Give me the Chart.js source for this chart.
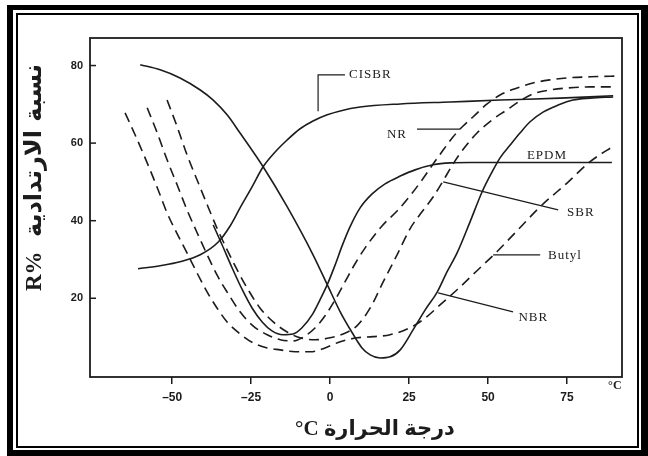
<!DOCTYPE html>
<html>
<head>
<meta charset="utf-8">
<script src="https://cdn.jsdelivr.net/npm/chart.js@4.4.1/dist/chart.umd.min.js"></script>
<style>
  html, body { margin: 0; padding: 0; background: #fff; }
  canvas { display: block; }
</style>
</head>
<body>
<canvas id="resilience" width="648" height="456"></canvas>
<script>
// Tick values on each axis
const tempTicks = [-50, -25, 0, 25, 50, 75];
const reboundTicks = [20, 40, 60, 80];

// Rebound resilience (R%) against temperature (°C) for each rubber
const cisbrTemp = [-60.8, -53.8, -47.5, -41.1, -35.4, -31.6, -28.5, -24.7, -21.2, -17.4, -13.6, -9.5, -5.4, -0.9, 3.2, 9.5, 22.2, 38.0, 53.8, 72.8, 89.6];
const cisbrR    = [27.6, 28.4, 29.4, 31.2, 34.5, 38.7, 43.3, 48.7, 53.9, 57.7, 60.8, 63.7, 65.7, 67.3, 68.3, 69.3, 70.1, 70.6, 71.1, 71.6, 72.2];

const nrTemp = [-57.9, -54.7, -51.6, -48.4, -45.3, -42.1, -38.9, -35.8, -32.6, -28.5, -24.4, -19.9, -15.8, -11.7, -7.9, -4.7, -1.6, 1.6, 4.7, 7.9, 11.1, 16.5, 21.2, 25.3, 29.1, 32.6, 35.8, 38.9, 42.1, 45.3, 49.7, 53.8, 59.2, 64.2, 69.6, 75.0, 82.3, 91.8];
const nrR    = [69.1, 62.6, 55.7, 49.2, 42.8, 36.9, 31.2, 26.0, 21.6, 16.5, 12.9, 10.6, 9.3, 9.0, 10.3, 12.4, 15.5, 19.6, 24.2, 28.9, 33.0, 38.7, 42.5, 46.4, 50.5, 54.6, 58.2, 61.6, 64.4, 66.8, 70.1, 72.4, 74.2, 75.5, 76.3, 76.8, 77.1, 77.3];

const sbrTemp = [-51.6, -48.4, -45.3, -42.1, -38.9, -35.8, -32.6, -29.4, -26.3, -22.2, -18.0, -13.6, -9.5, -4.7, 0, 4.1, 8.5, 12.7, 16.8, 21.2, 25.3, 29.1, 32.6, 35.8, 38.9, 42.7, 46.5, 51.3, 56.0, 60.1, 64.2, 69.6, 75.0, 82.3, 89.6];
const sbrR    = [71.1, 64.2, 57.0, 50.5, 44.1, 38.1, 32.5, 27.3, 22.7, 17.5, 13.9, 11.3, 9.8, 9.3, 9.8, 10.8, 12.9, 17.5, 24.2, 31.2, 37.9, 42.3, 46.1, 50.3, 54.6, 59.0, 62.6, 66.0, 68.6, 70.9, 72.7, 73.7, 74.2, 74.5, 74.5];

const butylTemp = [-64.9, -61.7, -57.9, -54.7, -51.6, -48.4, -45.3, -42.1, -38.9, -35.8, -32.6, -28.5, -24.4, -19.9, -15.8, -11.1, -6.3, -1.6, 3.2, 8.5, 13.6, 19.0, 25.3, 30.1, 34.8, 40.2, 46.5, 52.8, 59.2, 66.5, 75.0, 82.3, 90.2];
const butylR    = [67.8, 62.1, 54.9, 48.5, 42.0, 36.6, 31.7, 26.5, 21.6, 17.5, 13.9, 10.8, 8.5, 7.2, 6.7, 6.2, 6.2, 7.2, 8.8, 9.8, 10.1, 10.6, 12.4, 14.9, 18.3, 22.2, 27.1, 32.0, 37.4, 43.6, 49.7, 55.2, 59.5];

const epdmTemp = [-37.0, -34.2, -31.0, -27.8, -24.7, -21.5, -18.4, -14.9, -11.7, -8.9, -5.7, -3.2, -0.9, 1.6, 3.8, 6.3, 9.5, 13.3, 17.4, 22.2, 26.9, 32.6, 38.0, 44.3, 89.2];
const epdmR    = [38.9, 33.8, 27.8, 22.2, 17.5, 13.9, 11.6, 10.6, 10.8, 12.4, 15.7, 19.6, 23.5, 28.6, 33.5, 38.4, 43.3, 46.9, 49.5, 51.5, 53.1, 54.4, 54.9, 55.0, 55.0];

const nbrTemp = [-60.1, -53.8, -47.5, -41.1, -37.0, -32.6, -28.5, -21.2, -13.6, -5.4, -0.9, 3.2, 7.0, 10.1, 12.7, 15.8, 19.0, 22.2, 26.3, 30.1, 33.9, 37.0, 40.2, 44.3, 48.1, 51.3, 53.8, 57.0, 60.1, 63.3, 67.4, 72.2, 76.9, 82.3, 89.6];
const nbrR    = [80.2, 78.9, 76.8, 73.7, 71.1, 67.3, 62.6, 53.9, 43.6, 31.2, 23.5, 16.5, 11.1, 7.2, 5.4, 4.6, 4.9, 6.7, 11.9, 17.0, 21.6, 26.8, 31.7, 39.7, 47.4, 52.6, 56.2, 59.5, 62.6, 65.5, 68.0, 69.8, 71.1, 71.6, 71.9];

// Curve labels with their leader lines, in axis units (temperature, R%)
const curveLabels = [
  { text: 'CISBR', at: [6.0, 77.6], leader: [[-3.8, 68.2], [-3.8, 77.6], [4.7, 77.6]] },
  { text: 'NR',    at: [18.0, 62.2], leader: [[27.5, 63.6], [41.1, 63.6]] },
  { text: 'EPDM',  at: [62.3, 56.8], leader: [] },
  { text: 'SBR',   at: [75.0, 42.2], leader: [[35.8, 50.0], [72.2, 42.8]] },
  { text: 'Butyl', at: [69.0, 30.9], leader: [[51.6, 31.2], [66.5, 31.2]] },
  { text: 'NBR',   at: [59.6, 15.0], leader: [[34.2, 21.4], [57.9, 16.5]] }
];

const ink = '#1c1c1c';
const pairs = (xs, ys) => xs.map((x, i) => ({ x, y: ys[i] }));

function curve(label, xs, ys, dashed) {
  return {
    label,
    data: pairs(xs, ys),
    borderColor: ink,
    borderWidth: 1.6,
    borderDash: dashed ? [10, 6] : [],
    pointRadius: 0,
    fill: false,
    cubicInterpolationMode: 'monotone'
  };
}

const decorations = {
  id: 'decorations',
  beforeDraw(chart) {
    const ctx = chart.ctx;
    ctx.save();
    ctx.fillStyle = '#fff';
    ctx.fillRect(0, 0, chart.width, chart.height);
    ctx.restore();
  },
  afterDraw(chart) {
    const ctx = chart.ctx;
    const a = chart.chartArea;
    const xs = chart.scales.x, ys = chart.scales.y;
    ctx.save();

    // plot box
    ctx.strokeStyle = ink;
    ctx.lineWidth = 1.8;
    ctx.strokeRect(a.left, a.top, a.right - a.left, a.bottom - a.top);

    // inward tick marks on the R% axis
    ctx.lineWidth = 1.5;
    reboundTicks.forEach(v => {
      const y = ys.getPixelForValue(v);
      ctx.beginPath();
      ctx.moveTo(a.left, y);
      ctx.lineTo(a.left + 6, y);
      ctx.stroke();
    });

    // curve labels and leaders
    ctx.lineWidth = 1.2;
    ctx.fillStyle = ink;
    ctx.font = '13px "Liberation Serif"';
    ctx.letterSpacing = '1px';
    ctx.textBaseline = 'middle';
    ctx.textAlign = 'left';
    curveLabels.forEach(l => {
      if (l.leader.length) {
        ctx.beginPath();
        l.leader.forEach((p, i) => {
          const px = xs.getPixelForValue(p[0]), py = ys.getPixelForValue(p[1]);
          if (i === 0) ctx.moveTo(px, py); else ctx.lineTo(px, py);
        });
        ctx.stroke();
      }
      ctx.fillText(l.text, xs.getPixelForValue(l.at[0]), ys.getPixelForValue(l.at[1]));
    });
    ctx.letterSpacing = '0px';

    // unit next to the temperature axis
    ctx.font = 'bold 12px "Liberation Serif"';
    ctx.fillText('°C', xs.getPixelForValue(88), a.bottom + 9);

    // axis titles
    ctx.font = 'bold 21px "Liberation Serif", "DejaVu Sans"';
    ctx.textAlign = 'center';
    ctx.fillText('°C درجة الحرارة', 375, 430);

    ctx.save();
    ctx.translate(35, 0);
    ctx.rotate(-Math.PI / 2);
    ctx.textAlign = 'left';
    ctx.font = 'bold 23px "Liberation Serif"';
    ctx.fillText('R%', -291, 0);
    ctx.textAlign = 'right';
    ctx.font = 'bold 24px "DejaVu Sans"';
    ctx.fillText('نسبة الارتدادية', -64, 0);
    ctx.restore();

    // double frame round the figure
    ctx.fillStyle = '#000';
    ctx.fillRect(7, 5, 634, 5);
    ctx.fillRect(7, 450, 641, 6);
    ctx.fillRect(7, 5, 6, 451);
    ctx.fillRect(641, 5, 7, 451);
    ctx.lineWidth = 2;
    ctx.strokeStyle = '#000';
    ctx.strokeRect(17, 14, 621, 433);

    ctx.restore();
  }
};

new Chart(document.getElementById('resilience'), {
  type: 'line',
  data: {
    datasets: [
      curve('CISBR', cisbrTemp, cisbrR, false),
      curve('NR', nrTemp, nrR, true),
      curve('SBR', sbrTemp, sbrR, true),
      curve('Butyl', butylTemp, butylR, true),
      curve('EPDM', epdmTemp, epdmR, false),
      curve('NBR', nbrTemp, nbrR, false)
    ]
  },
  options: {
    responsive: false,
    animation: false,
    devicePixelRatio: 1,
    layout: { padding: { left: 0, top: 38, right: 26, bottom: 0 } },
    plugins: { legend: { display: false }, tooltip: { enabled: false } },
    scales: {
      x: {
        type: 'linear',
        min: -76,
        max: 92.4,
        afterBuildTicks: s => { s.ticks = tempTicks.map(v => ({ value: v })); },
        afterFit: s => { s.height = 79; },
        border: { display: false },
        grid: { drawOnChartArea: false, drawTicks: true, tickLength: 7, color: ink, lineWidth: 1.5 },
        ticks: {
          padding: 6,
          color: ink,
          font: { family: '"Liberation Sans"', size: 12, weight: 'bold' },
          callback: v => (v < 0 ? '\u2013' + Math.abs(v) : String(v))
        }
      },
      y: {
        type: 'linear',
        min: -0.3,
        max: 87.1,
        afterBuildTicks: s => { s.ticks = reboundTicks.map(v => ({ value: v })); },
        afterFit: s => { s.width = 90; },
        border: { display: false },
        grid: { display: false, drawTicks: false },
        ticks: {
          padding: 7,
          color: ink,
          font: { family: '"Liberation Sans"', size: 11, weight: 'bold' }
        }
      }
    }
  },
  plugins: [decorations]
});
</script>
</body>
</html>
